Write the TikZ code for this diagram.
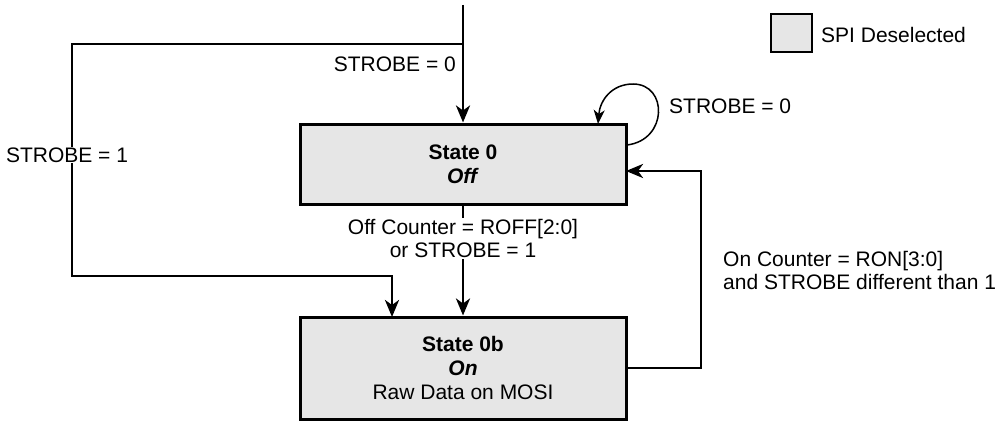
\documentclass[tikz,border=0pt]{standalone}
\usepackage{fontspec}
\setmainfont{Liberation Sans}
\usetikzlibrary{arrows.meta}
\tikzset{
  statebox/.style={draw, line width=3pt, fill=boxgray, inner sep=0pt, align=center, font=\fontsize{21}{24}\selectfont},
  lbl/.style={inner sep=1pt, font=\fontsize{21}{23}\selectfont},
  conn/.style={line width=2.8pt, -{Stealth[length=17pt,width=14pt,inset=5pt]}},
  wire/.style={line width=2.8pt},
  loopconn/.style={line width=1.5pt, -{Stealth[length=14pt,width=11pt,inset=4pt]}},
}
\definecolor{boxgray}{HTML}{E6E6E6}
\begin{document}
\begin{tikzpicture}[x=1pt,y=-1pt]
\useasboundingbox (0,0) rectangle (1000,420);
% states
\node[statebox, minimum width=326pt, minimum height=80pt] (s0) at (463,164) {\textbf{State 0}\\\textbf{\textit{Off}}};
\node[statebox, minimum width=326pt, minimum height=102pt] (s0b) at (463,368) {\textbf{State 0b}\\\textbf{\textit{On}}\\Raw Data on MOSI};
% legend
\node[draw, line width=2.8pt, fill=boxgray, minimum width=41pt, minimum height=38pt, inner sep=0pt] (leg) at (791.5,33) {};
\node[lbl, anchor=west] (legt) at (820,35) {SPI Deselected};
% coordinates
\coordinate (top) at (463,5);
\coordinate (j1) at (463,44);
\coordinate (lc) at (72,276);
\coordinate (in0b) at (392,317);
\coordinate (fbx) at (701,368);
\coordinate (in0) at (626,171);
\coordinate (ls) at (627,145);
\coordinate (le) at (598,124);
% connectors
\draw[conn] (top) -- (s0.north);
\draw[conn] (j1) -| (lc) -| (in0b);
\draw[conn] (s0.south) -- (s0b.north);
\draw[wire] (s0b.east) -- (fbx) |- (in0);
\draw[conn] (fbx |- in0) -- (in0);
\draw[loopconn] (ls) .. controls (668,140) and (668,84) .. (633,84) .. controls (612,84) and (600,100) .. (le);
% labels
\node[lbl, anchor=east] (l1) at (457,64) {STROBE = 0};
\node[lbl, fill=white] (l2) at (67,155) {STROBE = 1};
\node[lbl, anchor=west] (l3) at (668,106) {STROBE = 0};
\node[lbl, align=center, fill=white] (l4) at (463,238.5) {Off Counter = ROFF[2:0]\\or STROBE = 1};
\node[lbl, align=left, anchor=west] (l5) at (722,270) {On Counter = RON[3:0]\\and STROBE different than 1};
\end{tikzpicture}
\end{document}
